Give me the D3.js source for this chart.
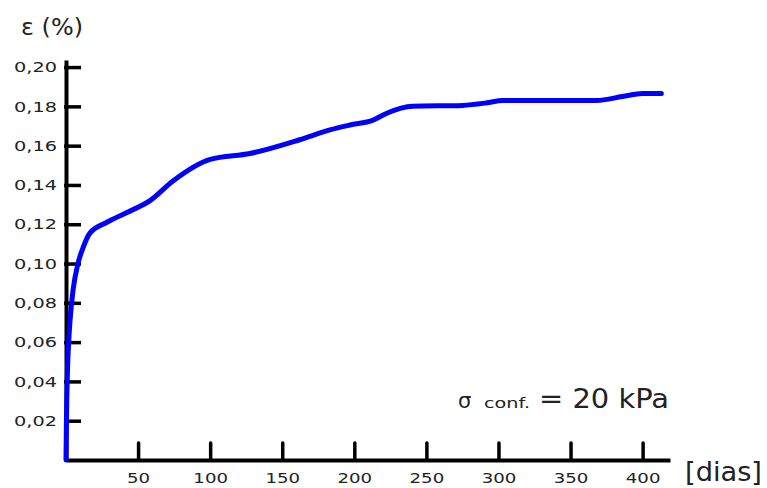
<!DOCTYPE html>
<html>
<head>
<meta charset="utf-8">
<script src="https://cdn.jsdelivr.net/npm/d3@7"></script>
<style>
  html, body { margin: 0; padding: 0; background: #fff; }
  svg text { font-family: "DejaVu Sans", Verdana, sans-serif; fill: #222; }
</style>
</head>
<body>
<svg id="chart" width="767" height="488"></svg>
<script>
// Creep strain over time under 20 kPa confinement
const days   = [0, 0.3, 1, 2, 2.8, 4.9, 8.3, 11.8, 16.6, 28.4, 42.3, 58.3, 74.2, 100, 127.6, 162, 183, 197, 213, 222.6, 240.6, 275, 292, 303, 368, 386, 400, 413];
const strain = [0, 0.02, 0.045, 0.062, 0.071, 0.0865, 0.100, 0.108, 0.1155, 0.121, 0.126, 0.132, 0.142, 0.153, 0.156, 0.163, 0.168, 0.1705, 0.173, 0.1765, 0.180, 0.1805, 0.1818, 0.183, 0.183, 0.185, 0.1866, 0.1866];

const xTicks = [50, 100, 150, 200, 250, 300, 350, 400];
const yTicks = [0.02, 0.04, 0.06, 0.08, 0.10, 0.12, 0.14, 0.16, 0.18, 0.20];
const fmtY = v => d3.format(".2f")(v).replace(".", ",");

const svg = d3.select("#chart");

const x = d3.scaleLinear().domain([0, 419]).range([66, 670]);
const y = d3.scaleLinear().domain([0, 0.2036]).range([460, 60]);

// widen glyphs horizontally by a factor (wide UI-style lettering)
function widen(sel, k) {
  sel.each(function () {
    const w = this.getComputedTextLength();
    d3.select(this).attr("textLength", w * k).attr("lengthAdjust", "spacingAndGlyphs");
  });
}

// y axis: ticks pointing into the plot
const gy = svg.append("g")
  .attr("transform", `translate(${x(0)},0)`)
  .call(d3.axisLeft(y).tickValues(yTicks).tickFormat(fmtY)
        .tickSizeInner(-15).tickSizeOuter(0).tickPadding(9));
gy.select(".domain").attr("stroke", "#000").attr("stroke-width", 4);
gy.selectAll(".tick line").attr("stroke", "#000").attr("stroke-width", 3.5).attr("x1", -2);
gy.selectAll(".tick text").attr("font-size", 14.5)
  .attr("font-family", "DejaVu Sans").attr("fill", "#222").call(widen, 1.33);

// x axis: ticks pointing up
const gx = svg.append("g")
  .attr("transform", `translate(0,${y(0)})`)
  .call(d3.axisBottom(x).tickValues(xTicks)
        .tickSizeInner(-17).tickSizeOuter(0).tickPadding(13));
gx.select(".domain").attr("stroke", "#000").attr("stroke-width", 4);
gx.selectAll(".tick line").attr("stroke", "#000").attr("stroke-width", 3.5).attr("stroke-linecap", "round");
gx.selectAll(".tick text").attr("font-size", 14.5)
  .attr("font-family", "DejaVu Sans").attr("fill", "#222").call(widen, 1.25);

// strain curve
const line = d3.line().x((d, i) => x(days[i])).y((d, i) => y(strain[i])).curve(d3.curveMonotoneX);
svg.append("path")
  .datum(days)
  .attr("d", line)
  .attr("fill", "none")
  .attr("stroke", "#0000ff")
  .attr("stroke-width", 5)
  .attr("stroke-linejoin", "round")
  .attr("stroke-linecap", "round");

// axis titles
svg.append("text").attr("x", 21).attr("y", 35)
  .attr("font-size", 23).text("ε (%)")
  .attr("textLength", 62).attr("lengthAdjust", "spacingAndGlyphs");
svg.append("text").attr("x", 685).attr("y", 481)
  .attr("font-size", 27).text("[dias]")
  .attr("textLength", 77).attr("lengthAdjust", "spacingAndGlyphs");

// confinement annotation
svg.append("text").attr("x", 458).attr("y", 408).attr("font-size", 21).text("σ");
svg.append("text").attr("x", 484).attr("y", 408).attr("font-size", 14.5).text("conf.")
  .attr("textLength", 46).attr("lengthAdjust", "spacingAndGlyphs");
svg.append("text").attr("x", 539).attr("y", 408).attr("font-size", 26).text("= 20 kPa")
  .attr("textLength", 130).attr("lengthAdjust", "spacingAndGlyphs");
</script>
</body>
</html>
